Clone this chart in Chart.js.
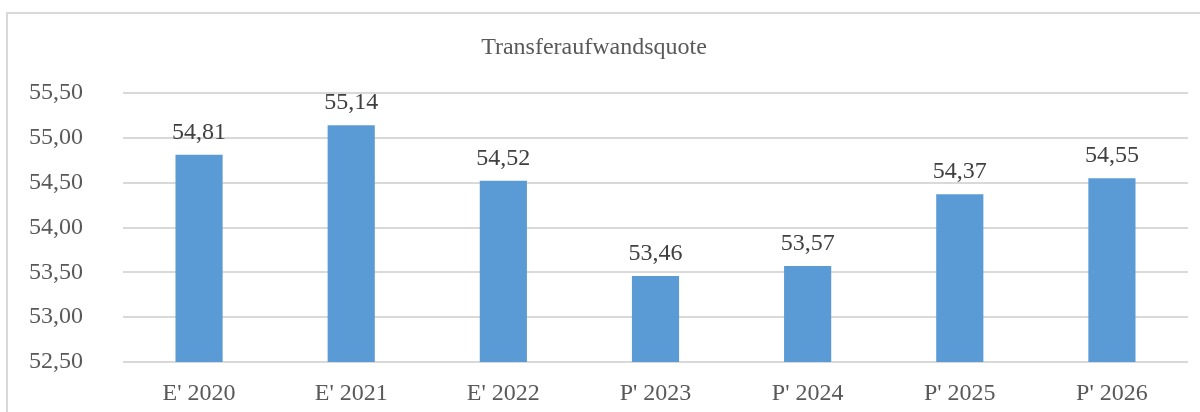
<!DOCTYPE html>
<html>
<head>
<meta charset="utf-8">
<script src="https://cdn.jsdelivr.net/npm/chart.js@4"></script>
<style>
    body { margin: 0; background: #fff; overflow: hidden; }
    #rahmen {
        position: absolute; left: 6px; top: 12px;
        width: 1300px; height: 500px;
        border: 2px solid #d9d9d9;
    }
    #grafica { position: absolute; left: 0; top: 0; }
</style>
</head>
<body>
<div id="rahmen"></div>
<canvas id="grafica" width="1200" height="412"></canvas>
<script>
// Jahre (E = Ergebnis, P = Plan) und Quote in Prozent
const jahre = ["E' 2020", "E' 2021", "E' 2022", "P' 2023", "P' 2024", "P' 2025", "P' 2026"];
const quote = [54.81, 55.14, 54.52, 53.46, 53.57, 54.37, 54.55];
const yMin = 52.5;
const yMax = 55.5;
const yStep = 0.5;

const schrift = "'Liberation Serif', 'Times New Roman', serif";
const textFarbe = '#595959';

function komma(v) {
    return v.toFixed(2).replace('.', ',');
}

// Werte über die Säulen schreiben
const wertLabels = {
    id: 'wertLabels',
    afterDatasetsDraw(chart) {
        const ctx = chart.ctx;
        const meta = chart.getDatasetMeta(0);
        ctx.save();
        ctx.font = '24px ' + schrift;
        ctx.fillStyle = '#404040';
        ctx.textAlign = 'center';
        ctx.textBaseline = 'alphabetic';
        meta.data.forEach((bar, i) => {
            ctx.fillText(komma(quote[i]), bar.x, bar.y - 16);
        });
        ctx.restore();
    }
};

let ctx = document.getElementById('grafica').getContext('2d');

let grafica = new Chart(ctx, {
    type: 'bar',
    data: {
        labels: jahre,
        datasets: [{
            data: quote,
            backgroundColor: '#5b9bd5',
            barPercentage: 0.31,
            categoryPercentage: 1
        }]
    },
    options: {
        responsive: false,
        animation: false,
        layout: { padding: { left: 0, right: 12, top: 0, bottom: 0 } },
        plugins: {
            legend: { display: false },
            tooltip: { enabled: false },
            title: {
                display: true,
                text: 'Transferaufwandsquote',
                color: textFarbe,
                font: { family: schrift, size: 24, weight: 'normal', lineHeight: 1.2 },
                padding: { top: 33, bottom: 31.2 }
            }
        },
        scales: {
            x: {
                grid: { display: false },
                border: { display: false },
                ticks: {
                    color: textFarbe,
                    font: { family: schrift, size: 24 },
                    padding: 9,
                    maxRotation: 0
                },
                afterFit(scale) { scale.height = 50; }
            },
            y: {
                min: yMin,
                max: yMax,
                border: { display: false },
                // unsichtbare Tick-Striche schaffen den Abstand zwischen Beschriftung und Gitter
                grid: { color: '#d9d9d9', lineWidth: 2, drawTicks: true, tickLength: 38, tickColor: 'rgba(0,0,0,0)' },
                ticks: {
                    stepSize: yStep,
                    color: textFarbe,
                    font: { family: schrift, size: 24 },
                    padding: 2,
                    callback: v => komma(v)
                },
                afterFit(scale) { scale.width = 123; }
            }
        }
    },
    plugins: [wertLabels]
});
</script>
</body>
</html>
